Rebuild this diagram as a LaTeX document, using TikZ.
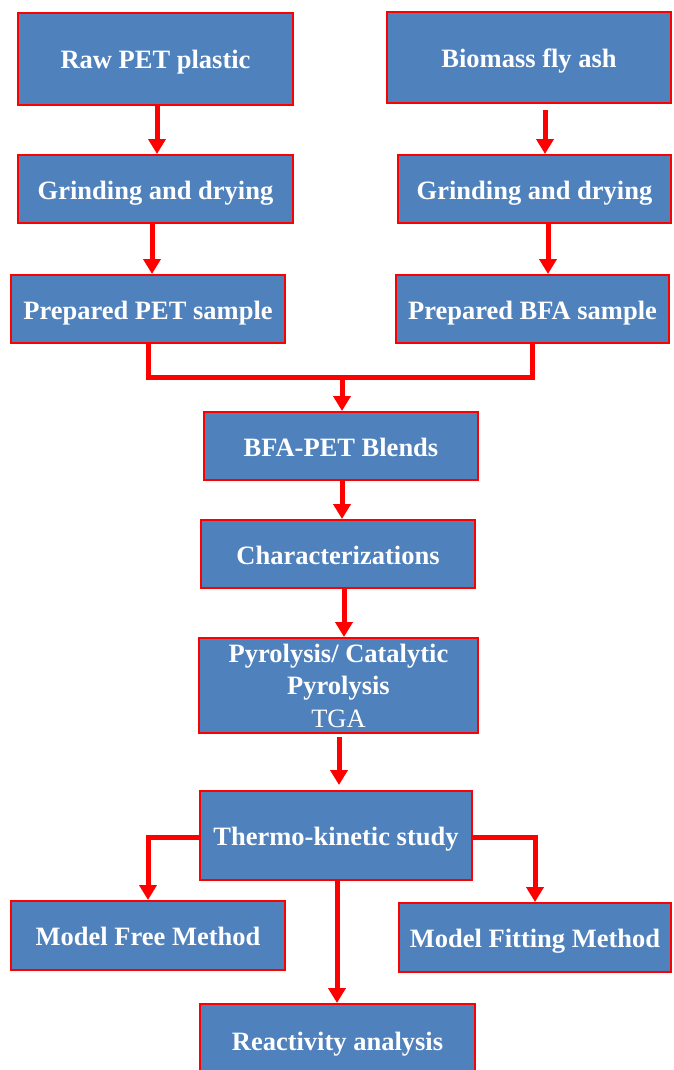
\documentclass[tikz,border=0pt]{standalone}
\usepackage{fontspec}
\setmainfont{Liberation Serif}
\usetikzlibrary{arrows.meta}
\definecolor{boxblue}{HTML}{4F81BD}
\begin{document}
\begin{tikzpicture}[x=1pt,y=-1pt,
  box/.style={draw=red,line width=2pt,fill=boxblue,text=white,inner sep=0pt,
    font=\fontsize{26.5}{32.5}\selectfont\bfseries,align=center},
  onebox/.style={box,text height=22pt,text depth=2pt},
  conn/.style={draw=red,line width=5pt},
  arr/.style={conn,-{Triangle[width=17pt,length=15pt]}}]
\useasboundingbox (0,0) rectangle (673,1070);
\clip (0,0) rectangle (673,1070);
\node[onebox,minimum width=275pt,minimum height=92pt] (raw) at (155.5,59) {Raw PET plastic};
\node[onebox,minimum width=284pt,minimum height=91pt] (bio) at (529,57.5) {Biomass fly ash};
\node[onebox,minimum width=275pt,minimum height=68pt] (grL) at (155.5,189) {Grinding and drying};
\node[onebox,minimum width=273pt,minimum height=68pt] (grR) at (534.5,189) {Grinding and drying};
\node[onebox,minimum width=274pt,minimum height=68pt] (prL) at (148,309) {Prepared PET sample};
\node[onebox,minimum width=273pt,minimum height=68pt] (prR) at (532.5,309) {Prepared BFA sample};
\node[onebox,minimum width=274pt,minimum height=68pt] (blend) at (341,446) {BFA-PET Blends};
\node[onebox,minimum width=274pt,minimum height=68pt] (char) at (338,554) {Characterizations};
\node[box,minimum width=279pt,minimum height=95pt] (pyro) at (338.5,685.5) {Pyrolysis/ Catalytic\\Pyrolysis\\{\mdseries TGA}};
\node[onebox,minimum width=272pt,minimum height=89pt] (thermo) at (336,835.5) {Thermo-kinetic study};
\node[onebox,minimum width=274pt,minimum height=69pt] (mfree) at (148,935.5) {Model Free Method};
\node[onebox,minimum width=272pt,minimum height=69pt] (mfit) at (535,937.5) {Model Fitting Method};
\node[onebox,minimum width=275pt,minimum height=72pt] (react) at (337.5,1040) {Reactivity analysis};
\coordinate (j) at (342,377);
\draw[arr] ([xshift=1.5pt]raw.south) -- ([xshift=1.5pt]raw.south |- grL.north);
\draw[arr] ([xshift=16pt,yshift=-6pt]bio.south) -- ([xshift=16pt]bio.south |- grR.north);
\draw[arr] ([xshift=-3.5pt]grL.south) -- ([xshift=-3.5pt]grL.south |- prL.north);
\draw[arr] ([xshift=13.5pt]grR.south) -- ([xshift=13.5pt]grR.south |- prR.north);
\draw[conn,line join=miter] (prL.south) |- (j) -| (prR.south);
\draw[arr] (j) -- (j |- blend.north);
\draw[arr] ([xshift=1pt]blend.south) -- ([xshift=1pt]blend.south |- char.north);
\draw[arr] ([xshift=6pt]char.south) -- ([xshift=6pt]char.south |- pyro.north);
\draw[arr] ([xshift=0.5pt,yshift=-3pt]pyro.south) -- ([xshift=0.5pt,yshift=5pt]pyro.south |- thermo.north);
\draw[arr,line join=miter] ([yshift=-1.5pt]thermo.west) -| (mfree.north);
\draw[arr,line join=miter] ([yshift=-1.5pt]thermo.east) -| (mfit.north);
\draw[arr] ([xshift=1pt]thermo.south) -- ([xshift=1pt]thermo.south |- react.north);
\end{tikzpicture}
\end{document}
